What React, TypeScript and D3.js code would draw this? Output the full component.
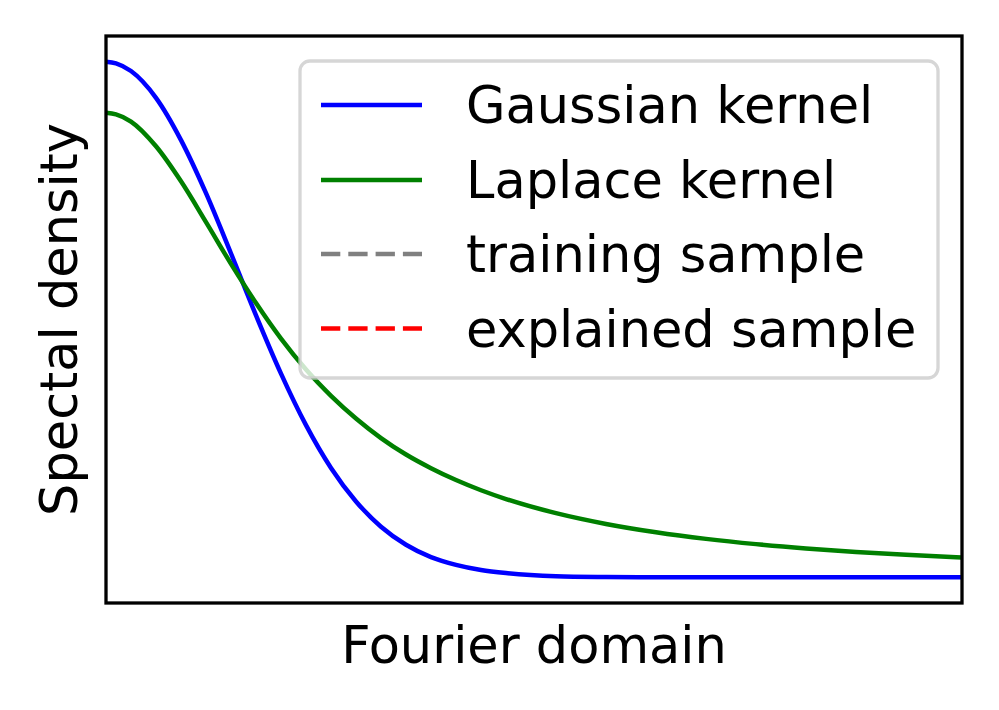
import React from "react";
import * as d3 from "d3";

// Fourier-domain positions (arbitrary units; axis spans 0 .. 8.56)
const freq = [0, 0.1, 0.25, 0.5, 0.75, 1.0, 1.25, 1.5, 1.75, 2.0, 2.25, 2.5, 2.75, 3.0, 3.25, 3.5, 3.75, 4.0, 4.5, 5.0, 5.5, 6.0, 6.5, 7.0, 7.5, 8.0, 8.56];

// Spectral density (normalised, Gaussian peak = 1)
const gaussian = [1.0, 0.997, 0.982, 0.93, 0.848, 0.745, 0.628, 0.508, 0.395, 0.295, 0.212, 0.147, 0.098, 0.063, 0.039, 0.024, 0.014, 0.008, 0.002, 0.0005, 0, 0, 0, 0, 0, 0, 0];
const laplace = [0.901, 0.898, 0.884, 0.836, 0.768, 0.689, 0.608, 0.532, 0.463, 0.403, 0.352, 0.308, 0.27, 0.238, 0.2115, 0.1885, 0.1687, 0.1517, 0.1243, 0.1034, 0.0872, 0.0744, 0.0642, 0.0559, 0.0491, 0.0434, 0.0382];

const legendLabels = ["Gaussian kernel", "Laplace kernel", "training sample", "explained sample"];
const legendColors = ["#0000ff", "#008000", "#808080", "#ff0000"];
const legendDashed = [false, false, true, true];

const xLabel = "Fourier domain";
const yLabel = "Spectal density";

export default function App() {
  const W = 999, H = 710;
  const left = 106, right = 962, top = 36, bottom = 603;
  const x = d3.scaleLinear().domain([0, 8.56]).range([left, right]);
  const y = d3.scaleLinear().domain([-0.05, 1.05]).range([bottom, top]);

  const line = d3
    .line<[number, number]>()
    .x((d) => x(d[0]))
    .y((d) => y(d[1]))
    .curve(d3.curveMonotoneX);

  const gPts = freq.map((f, i) => [f, gaussian[i]] as [number, number]);
  const lPts = freq.map((f, i) => [f, laplace[i]] as [number, number]);

  const font = "DejaVu Sans, sans-serif";
  const fs = 51;
  const lw = 4.5;

  const legX = 300, legY = 61, legW = 638, legH = 317;
  const rowY = [105, 180, 254, 328.5];

  return (
    <svg
      width={W}
      height={H}
      style={{ position: "absolute", left: 0, top: 0, background: "#fff" }}
      fontFamily={font}
    >
      <rect x={0} y={0} width={W} height={H} fill="#fff" />
      <defs>
        <clipPath id="plotClip">
          <rect x={left} y={top} width={right - left} height={bottom - top} />
        </clipPath>
      </defs>
      <g clipPath="url(#plotClip)">
        <path d={line(gPts) || ""} fill="none" stroke="#0000ff" strokeWidth={lw} />
        <path d={line(lPts) || ""} fill="none" stroke="#008000" strokeWidth={lw} />
      </g>
      <rect
        x={left}
        y={top}
        width={right - left}
        height={bottom - top}
        fill="none"
        stroke="#000"
        strokeWidth={3.3}
      />
      {/* legend */}
      <rect
        x={legX}
        y={legY}
        width={legW}
        height={legH}
        rx={10}
        ry={10}
        fill="#fff"
        fillOpacity={0.8}
        stroke="#cccccc"
        strokeOpacity={0.8}
        strokeWidth={3.3}
      />
      {legendLabels.map((lab, i) => (
        <g key={lab}>
          <line
            x1={321}
            x2={422}
            y1={rowY[i]}
            y2={rowY[i]}
            stroke={legendColors[i]}
            strokeWidth={lw}
            strokeDasharray={legendDashed[i] ? "19.3,8" : undefined}
          />
          <text x={466} y={rowY[i] + 18} fontSize={fs} fill="#000">
            {lab}
          </text>
        </g>
      ))}
      <text x={(left + right) / 2} y={663} fontSize={fs} textAnchor="middle" fill="#000">
        {xLabel}
      </text>
      <text
        transform={`translate(77, ${(top + bottom) / 2}) rotate(-90)`}
        fontSize={fs}
        textAnchor="middle"
        fill="#000"
      >
        {yLabel}
      </text>
    </svg>
  );
}
